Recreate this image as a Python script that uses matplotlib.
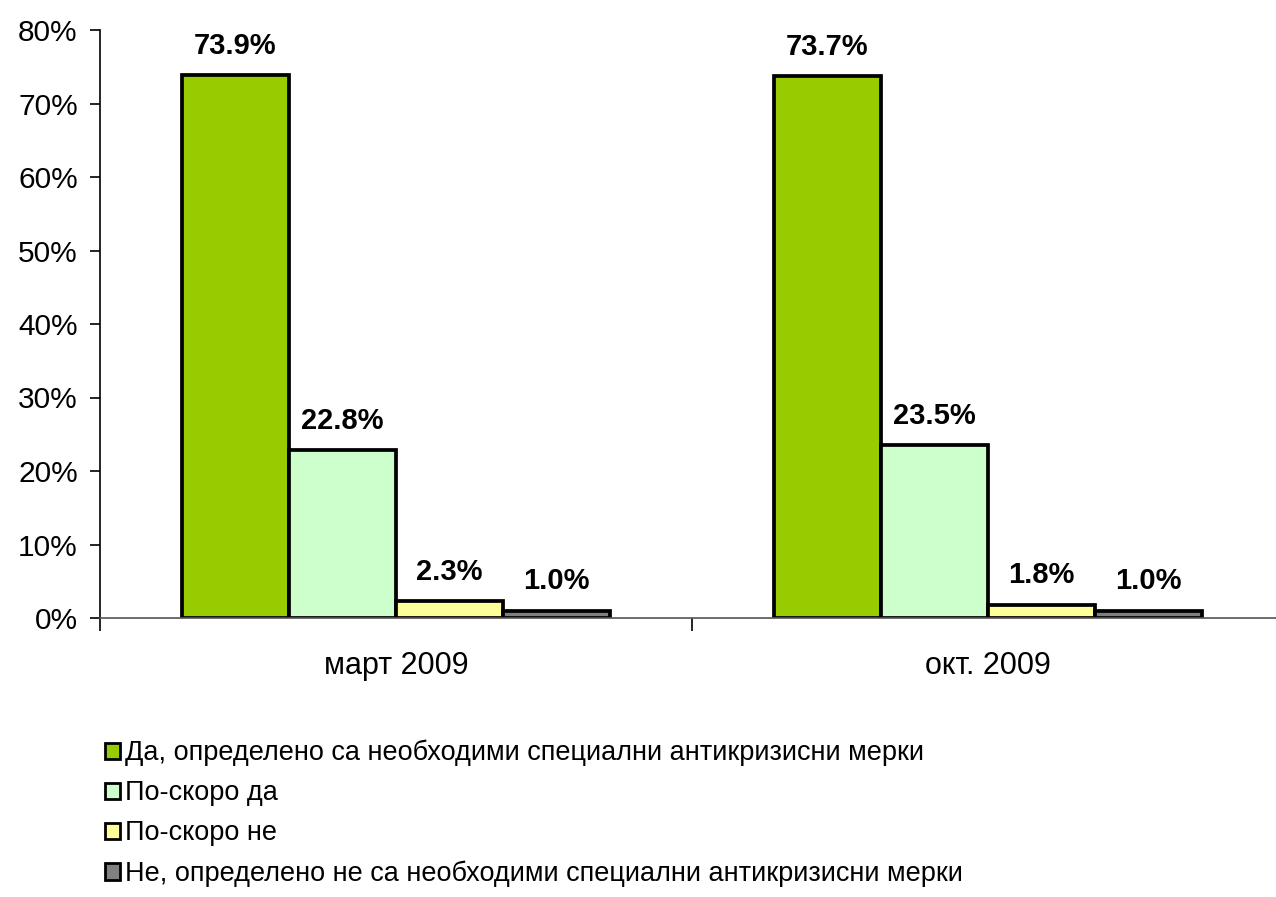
import numpy as np
import matplotlib
matplotlib.use("Agg")
from matplotlib import pyplot as plt
from matplotlib.patches import Patch

plt.rcParams['font.family'] = ['Liberation Sans', 'DejaVu Sans']

# data
periods = ["март 2009", "окт. 2009"]
answers = [
    "Да, определено са необходими специални антикризисни мерки",
    "По-скоро да",
    "По-скоро не",
    "Не, определено не са необходими специални антикризисни мерки",
]
yes_sure = [73.9, 73.7]
rather_yes = [22.8, 23.5]
rather_no = [2.3, 1.8]
no_sure = [1.0, 1.0]
colors = ["#99CC00", "#CCFFCC", "#FFFF99", "#808080"]

series = [yes_sure, rather_yes, rather_no, no_sure]

fig = plt.figure(figsize=(12.76, 8.97), dpi=100)
ax = fig.add_axes([100/1276, 1 - 618/897, 1184/1276, 588/897])

x = np.arange(len(periods))
w = 0.181
for i, vals in enumerate(series):
    pos = x + (i - 1.5) * w
    ax.bar(pos, vals, width=w, color=colors[i], edgecolor="black", linewidth=2.7)
    for p, v in zip(pos, vals):
        ax.annotate("%.1f%%" % v, (p, v), xytext=(0, 11), textcoords="offset points",
                    ha="center", va="bottom", fontsize=21, fontweight="bold")

ax.set_xlim(-0.5, 1.5)
ax.set_ylim(0, 80)
ax.set_yticks(np.arange(0, 81, 10))
ax.set_yticklabels(["%d%%" % t for t in range(0, 81, 10)], fontsize=21.5)
ax.tick_params(axis="y", length=7, width=1.2, direction="out", pad=9)

# category separators on the x axis
ax.set_xticks([-0.5, 0.5, 1.5])
ax.set_xticklabels([])
ax.set_xticks(x, minor=True)
ax.set_xticklabels(periods, minor=True, fontsize=22)
ax.tick_params(axis="x", which="major", length=9, width=1.2, direction="out")
ax.tick_params(axis="x", which="minor", length=0, pad=24)

for s in ["top", "right"]:
    ax.spines[s].set_visible(False)
ax.spines["left"].set_linewidth(1.2)
ax.spines["bottom"].set_linewidth(1.2)
ax.spines["bottom"].set_color("#555555")

handles = [Patch(facecolor=c, edgecolor="black", linewidth=2) for c in colors]
fig.legend(handles, answers, loc="upper left", bbox_to_anchor=(94/1276, 1 - 729/897),
           frameon=False, fontsize=19.5, handlelength=0.55, handleheight=0.55,
           handletextpad=0.2, labelspacing=0.52, borderaxespad=0)

fig.savefig("out.png", dpi=100)
